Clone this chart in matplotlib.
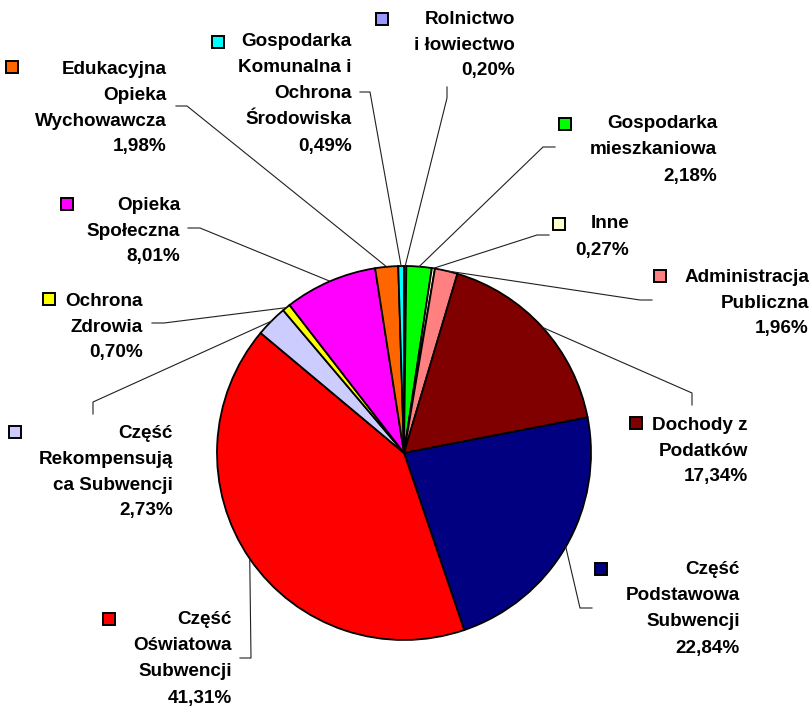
import numpy as np
import matplotlib
matplotlib.use("Agg")
from matplotlib import pyplot as plt

# slices, clockwise from 12 o'clock
categories = ["Rolnictwo\ni łowiectwo",
              "Gospodarka\nmieszkaniowa",
              "Inne",
              "Administracja\nPubliczna",
              "Dochody z\nPodatków",
              "Część\nPodstawowa\nSubwencji",
              "Część\nOświatowa\nSubwencji",
              "Część\nRekompensują\nca Subwencji",
              "Ochrona\nZdrowia",
              "Opieka\nSpołeczna",
              "Edukacyjna\nOpieka\nWychowawcza",
              "Gospodarka\nKomunalna i\nOchrona\nŚrodowiska"]
values = [0.20, 2.18, 0.27, 1.96, 17.34, 22.84, 41.31, 2.73, 0.70, 8.01, 1.98, 0.49]
colors = ["#9999FF", "#00FF00", "#FFFFCC", "#FF8080", "#800000", "#000080",
          "#FF0000", "#CCCCFF", "#FFFF00", "#FF00FF", "#FF6600", "#00FFFF"]

# layout in pixels (from top-left): text right edge, first line centre,
# legend square centre, leader start and elbow
text_pos = [(515, 17), (717, 122), (629, 222), (809, 275), (748, 423), (740, 568),
            (232, 618), (173, 431), (143, 299), (180, 203), (167, 67), (352, 40)]
square_pos = [(382, 19), (565, 124), (559, 224), (660, 276), (636, 423), (601, 569),
              (109, 619), (15, 432), (49, 299), (67, 204), (12, 67), (218, 42)]
leader = [((447, 87), (447, 98)), ((555, 147), (543, 147)), ((549, 235), (537, 235)),
          ((652, 300), (640, 300)), ((692, 405), (692, 393)), ((592, 608), (580, 608)),
          ((240, 658), (251, 658)), ((93, 414), (93, 402)), ((152, 323), (164, 323)),
          ((188, 228), (200, 228)), ((176, 106), (187, 106)), ((360, 92), (370, 92))]

W, H = 811, 708
cx, cy, R = 404, 453, 187
step = 26

fig = plt.figure(figsize=(W / 100, H / 100), dpi=100)
ax = fig.add_axes([0, 0, 1, 1])

ax.pie(values, colors=colors, startangle=90, counterclock=False,
       center=(cx, H - cy), radius=R,
       wedgeprops=dict(edgecolor="black", linewidth=1.3))

total = sum(values)
cum = np.cumsum([0] + values[:-1])
for i, (name, v) in enumerate(zip(categories, values)):
    th = 2 * np.pi * (cum[i] + v / 2) / total
    px, py = cx + R * np.sin(th), cy - R * np.cos(th)
    (sx, sy), (ex, ey) = leader[i]
    ax.plot([sx, ex, px], [H - sy, H - ey, H - py], color="#202020", lw=0.8, zorder=3)

    lines = name.split("\n") + [f"{v:.2f}".replace(".", ",") + "%"]
    tx, ty = text_pos[i]
    for k, ln in enumerate(lines):
        ax.text(tx, H - (ty + k * step) - 6.5, ln, ha="right", va="baseline",
                fontsize=13.6, fontweight="bold", family="Liberation Sans")
    qx, qy = square_pos[i]
    ax.plot(qx, H - qy, marker="s", ms=8.5, mfc=colors[i], mec="black", mew=1.4)

ax.set_xlim(0, W)
ax.set_ylim(0, H)
ax.set_aspect("equal")
ax.axis("off")
fig.savefig("out.png", dpi=100)
